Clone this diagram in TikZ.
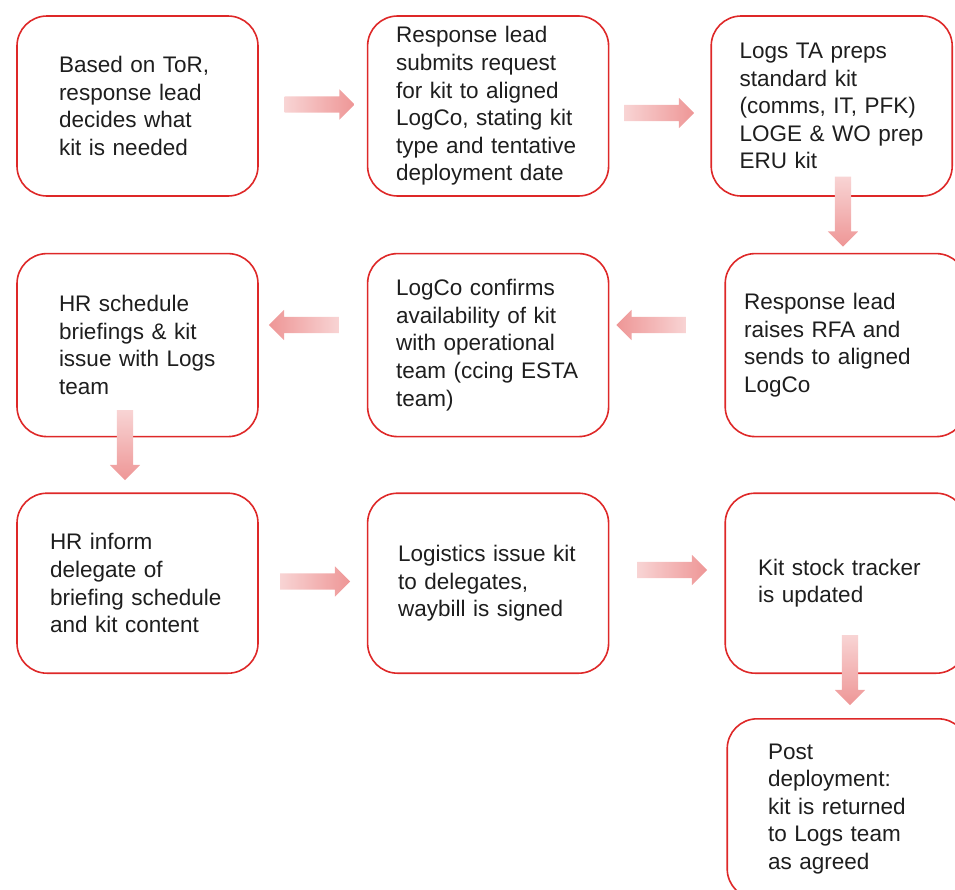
\documentclass[tikz,border=0pt]{standalone}
\usepackage{fontspec}
\setmainfont{Liberation Sans}
\usepackage{tikz}
\usetikzlibrary{shapes.arrows,positioning}
\definecolor{boxred}{RGB}{222,40,40}
\definecolor{arrowlight}{RGB}{248,212,212}
\definecolor{arrowdark}{RGB}{238,150,150}
\definecolor{textgrey}{RGB}{30,30,30}
\lefthyphenmin=64

\begin{document}
\begin{tikzpicture}[x=1pt,y=-1pt,node distance=56pt]
    \tikzstyle{stage}=[rectangle, rounded corners=30pt, draw=boxred, line width=1.6pt, fill=white, minimum width=241pt, minimum height=180pt, inner sep=0pt, align=left, text=textgrey, font=\fontsize{22.5}{27.6}\selectfont]
    \tikzstyle{flow}=[single arrow, draw=none, minimum height=70pt, minimum width=30pt, single arrow head extend=7pt]
    \tikzstyle{flowright}=[flow, inner xsep=0pt, inner ysep=8pt, left color=arrowlight, right color=arrowdark]
    \tikzstyle{flowleft}=[flow, inner xsep=0pt, inner ysep=8pt, shape border rotate=180, left color=arrowdark, right color=arrowlight]
    \tikzstyle{flowdown}=[flow, inner xsep=8pt, inner ysep=0pt, shape border rotate=270, top color=arrowlight, bottom color=arrowdark]

    \useasboundingbox (0,0) rectangle (955,889);

    % first row
    \node[stage, text width=157pt]  (tor) at (137.5,106) {Based on ToR,\\response lead\\decides what\\kit is needed};
    \node[stage, text width=184pt]  (request) [right=108pt of tor] {Response lead\\submits request\\for kit to aligned\\LogCo, stating kit\\type and tentative\\deployment date};
    \node[stage, text width=184pt]  (prep) [right=101pt of request] {Logs TA preps\\standard kit\\(comms, IT, PFK)\\LOGE \& WO prep\\ERU kit};

    % second row
    \node[stage, text width=157pt, minimum height=183pt]  (briefing) [below=56pt of tor] {HR schedule\\briefings \& kit\\issue with Logs\\team};
    \node[stage, text width=184pt, minimum height=183pt]  (confirm) [below=56pt of request] {LogCo confirms\\availability of kit\\with operational\\team (ccing ESTA\\team)};
    \node[stage, text width=203pt, minimum height=183pt]  (rfa) [right=115pt of confirm] {Response lead\\raises RFA and\\sends to aligned\\LogCo};

    % third row
    \node[stage, text width=175pt]  (inform) [below=55pt of briefing] {HR inform\\delegate of\\briefing schedule\\and kit content};
    \node[stage, text width=180pt]  (issue) [below=55pt of confirm] {Logistics issue kit\\to delegates,\\waybill is signed};
    \node[stage, text width=175pt]  (tracker) [below=55pt of rfa] {Kit stock tracker\\is updated};

    % last box
    \node[stage, text width=159pt]  (return) [below=44pt of tracker, xshift=2pt] {Post\\deployment:\\kit is returned\\to Logs team\\as agreed};

    % block arrows
    \node[flowright] (torrequest) at (315.5,104.5) {};
    \node[flowright] (requestprep) at (655,113) {};
    \node[flowdown]  (preprfa) at (843,207.5) {};
    \node[flowleft]  (rfaconfirm) at (655.5,325) {};
    \node[flowleft]  (confirmbriefing) at (308,325) {};
    \node[flowdown]  (briefinginform) at (125,441) {};
    \node[flowright] (informissue) at (311,581.5) {};
    \node[flowright] (issuetracker) at (668,570) {};
    \node[flowdown]  (trackerreturn) at (850,666) {};

\end{tikzpicture}
\end{document}
